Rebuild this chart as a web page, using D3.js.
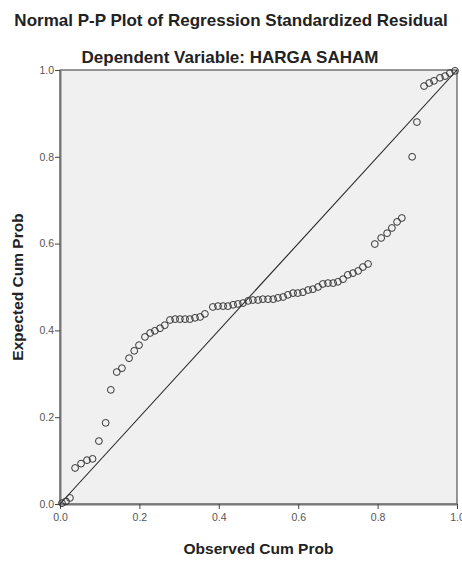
<!DOCTYPE html>
<html>
<head>
<meta charset="utf-8">
<script src="https://cdn.jsdelivr.net/npm/d3@7"></script>
<style>
  body { margin: 0; background: #fff; }
  text { font-family: "Liberation Sans", Arial, sans-serif; }
</style>
</head>
<body>
<div id="chart"></div>
<script>
const WIDTH  = 462;
const HEIGHT = 561;
const MARGIN = { top: 70, right: 5, bottom: 57, left: 60 };
const INNER_WIDTH  = WIDTH - MARGIN.left - MARGIN.right;
const INNER_HEIGHT = HEIGHT - MARGIN.top - MARGIN.bottom;

// observed vs expected cumulative probabilities
const observed = [
  0.005, 0.015, 0.025, 0.038, 0.053, 0.068, 0.082, 0.098, 0.115, 0.128,
  0.143, 0.156, 0.174, 0.187, 0.199, 0.214, 0.227, 0.239, 0.252, 0.264,
  0.277, 0.290, 0.302, 0.315, 0.327, 0.340, 0.353, 0.365, 0.385, 0.398,
  0.411, 0.423, 0.436, 0.448, 0.461, 0.474, 0.486, 0.499, 0.511, 0.524,
  0.537, 0.549, 0.562, 0.574, 0.587, 0.599, 0.612, 0.625, 0.637, 0.650,
  0.662, 0.675, 0.688, 0.700, 0.713, 0.725, 0.738, 0.751, 0.763, 0.776,
  0.793, 0.809, 0.824, 0.836, 0.849, 0.861, 0.887, 0.899, 0.917, 0.930,
  0.942, 0.957, 0.970, 0.982, 0.995
];
const expected = [
  0.002, 0.006, 0.014, 0.083, 0.093, 0.101, 0.104, 0.145, 0.187, 0.263,
  0.304, 0.313, 0.336, 0.353, 0.366, 0.385, 0.394, 0.399, 0.405, 0.412,
  0.424, 0.426, 0.426, 0.426, 0.426, 0.429, 0.431, 0.438, 0.454, 0.456,
  0.456, 0.456, 0.459, 0.461, 0.463, 0.468, 0.470, 0.470, 0.472, 0.472,
  0.472, 0.475, 0.477, 0.482, 0.486, 0.486, 0.488, 0.493, 0.495, 0.500,
  0.507, 0.509, 0.509, 0.512, 0.518, 0.528, 0.532, 0.537, 0.546, 0.553,
  0.599, 0.613, 0.624, 0.636, 0.650, 0.659, 0.800, 0.880, 0.963, 0.970,
  0.975, 0.982, 0.986, 0.993, 0.998
];
const ticks = [0.0, 0.2, 0.4, 0.6, 0.8, 1.0];

const svg = d3.select('#chart').append('svg')
  .attr('width', WIDTH)
  .attr('height', HEIGHT);

// titles
svg.append('text')
  .attr('x', 231).attr('y', 26)
  .attr('text-anchor', 'middle')
  .style('font-size', '17px').style('font-weight', 'bold').attr('fill', '#222')
  .text('Normal P-P Plot of Regression Standardized Residual');
svg.append('text')
  .attr('x', 230).attr('y', 63)
  .attr('text-anchor', 'middle')
  .style('font-size', '17px').style('font-weight', 'bold').attr('fill', '#222')
  .text('Dependent Variable: HARGA SAHAM');

const g = svg.append('g')
  .attr('transform', 'translate(' + MARGIN.left + ',' + MARGIN.top + ')');

const x = d3.scaleLinear().domain([0, 1]).range([0, INNER_WIDTH]);
const y = d3.scaleLinear().domain([0, 1]).range([INNER_HEIGHT, 0]);

// plot background
g.append('rect')
  .attr('width', INNER_WIDTH).attr('height', INNER_HEIGHT)
  .attr('fill', '#f0f0f0')
  .attr('stroke', '#333').attr('stroke-width', 1);

const xAxis = d3.axisBottom(x).tickValues(ticks).tickFormat(d3.format('.1f')).tickSize(5).tickSizeOuter(0);
const yAxis = d3.axisLeft(y).tickValues(ticks).tickFormat(d3.format('.1f')).tickSize(5).tickSizeOuter(0);

const gx = g.append('g')
  .attr('transform', 'translate(0,' + INNER_HEIGHT + ')')
  .call(xAxis);
const gy = g.append('g').call(yAxis);

[gx, gy].forEach(a => {
  a.select('.domain').attr('stroke', '#777').attr('stroke-width', 2);
  a.selectAll('.tick line').attr('stroke', '#444');
  a.selectAll('.tick text').attr('fill', '#555').style('font-size', '10.5px')
    .style('font-family', '"Liberation Sans", Arial, sans-serif');
});
gx.selectAll('.tick text').attr('dy', '0.85em');
gy.selectAll('.tick text').attr('x', -6);

// reference diagonal
g.append('line')
  .attr('x1', x(0)).attr('y1', y(0))
  .attr('x2', x(1)).attr('y2', y(1))
  .attr('stroke', '#222').attr('stroke-width', 1.1);

// points
g.selectAll('circle')
  .data(observed.map((d, i) => [d, expected[i]]))
  .enter().append('circle')
    .attr('cx', d => x(d[0]))
    .attr('cy', d => y(d[1]))
    .attr('r', 3.4)
    .attr('fill', 'none')
    .attr('stroke', '#333')
    .attr('stroke-width', 1);

// axis labels
svg.append('text')
  .attr('x', MARGIN.left + INNER_WIDTH / 2).attr('y', 554)
  .attr('text-anchor', 'middle')
  .style('font-size', '15.5px').style('font-weight', 'bold').attr('fill', '#222')
  .text('Observed Cum Prob');
svg.append('text')
  .attr('transform', 'translate(23,' + (MARGIN.top + INNER_HEIGHT / 2) + ') rotate(-90)')
  .attr('text-anchor', 'middle')
  .style('font-size', '15.5px').style('font-weight', 'bold').attr('fill', '#222')
  .text('Expected Cum Prob');
</script>
</body>
</html>
